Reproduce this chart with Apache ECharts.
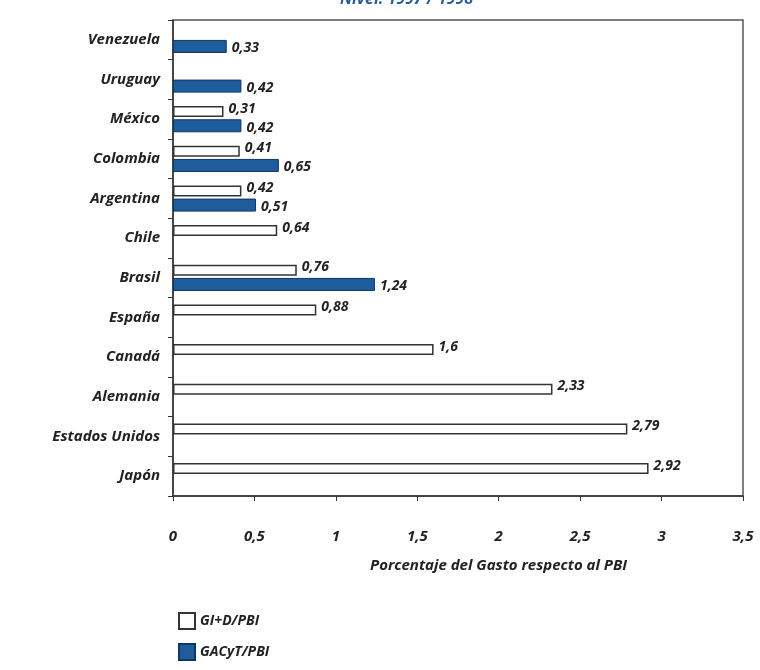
<!DOCTYPE html>
<html>
<head>
<meta charset="utf-8">
<script src="https://cdn.jsdelivr.net/npm/echarts@6/dist/echarts.min.js"></script>
<style>
    html, body { margin: 0; padding: 0; background: #fff; }
    #chart { width: 760px; height: 670px; }
</style>
</head>
<body>
<div id="chart"></div>
<script>
// datos
const paises = ['Venezuela', 'Uruguay', 'México', 'Colombia', 'Argentina', 'Chile', 'Brasil', 'España', 'Canadá', 'Alemania', 'Estados Unidos', 'Japón'];
const gid = [null, null, 0.31, 0.41, 0.42, 0.64, 0.76, 0.88, 1.6, 2.33, 2.79, 2.92];
const gacyt = [0.33, 0.42, 0.42, 0.65, 0.51, null, 1.24, null, null, null, null, null];
const xTicks = [0, 0.5, 1, 1.5, 2, 2.5, 3, 3.5];

const FONT = 'Open Sans';
const coma = function (v) { return String(v).replace('.', ','); };

let chart = echarts.init(document.getElementById('chart'));

let option = {
    animation: false,
    textStyle: { fontFamily: FONT },
    title: {
        text: 'Nivel: 1997 / 1998',
        left: 335,
        top: -14,
        textStyle: { color: '#2a5d9c', fontSize: 16, fontWeight: 'bold', fontStyle: 'italic', fontFamily: FONT }
    },
    grid: {
        left: 173,
        right: 17,
        top: 20,
        bottom: 174,
        show: true,
        borderColor: '#555',
        borderWidth: 1.5
    },
    legend: {
        left: 173,
        top: 607,
        orient: 'vertical',
        icon: 'rect',
        itemWidth: 16,
        itemHeight: 16,
        itemGap: 13,
        textStyle: { fontSize: 14, fontWeight: 'bold', fontStyle: 'italic', color: '#222', fontFamily: FONT },
        data: ['GI+D/PBI', 'GACyT/PBI']
    },
    xAxis: {
        type: 'value',
        min: 0,
        max: 3.5,
        interval: 0.5,
        axisLine: { show: true, lineStyle: { color: '#333', width: 1.5 } },
        axisTick: { show: true, length: 5, lineStyle: { color: '#333' } },
        splitLine: { show: false },
        axisLabel: {
            margin: 33,
            fontSize: 15,
            fontWeight: 'bold',
            fontStyle: 'italic',
            color: '#222',
            formatter: function (v) { return xTicks.indexOf(v) >= 0 ? coma(v) : ''; }
        }
    },
    yAxis: {
        type: 'category',
        inverse: true,
        data: paises,
        axisLine: { show: true, lineStyle: { color: '#333', width: 1.5 } },
        axisTick: { show: true, length: 5, lineStyle: { color: '#333' } },
        axisLabel: { margin: 13, fontSize: 15, fontWeight: 'bold', fontStyle: 'italic', color: '#222' }
    },
    graphic: [{
        type: 'text',
        left: 370,
        top: 558,
        style: {
            text: 'Porcentaje del Gasto respecto al PBI',
            font: 'italic bold 15px "Open Sans"',
            fill: '#222'
        }
    }],
    series: [{
        name: 'GI+D/PBI',
        type: 'bar',
        data: gid,
        barWidth: 11,
        barGap: '20%',
        itemStyle: { color: '#fff', borderColor: '#333', borderWidth: 1.5 },
        label: {
            show: true,
            position: 'right',
            distance: 5,
            offset: [0, -3],
            fontSize: 14,
            fontWeight: 'bold',
            fontStyle: 'italic',
            color: '#222',
            formatter: function (p) { return coma(p.value); }
        }
    }, {
        name: 'GACyT/PBI',
        type: 'bar',
        data: gacyt,
        barWidth: 13,
        itemStyle: { color: '#1f5c9c', borderColor: '#0f3563', borderWidth: 1 },
        label: {
            show: true,
            position: 'right',
            distance: 5,
            offset: [0, 2],
            fontSize: 14,
            fontWeight: 'bold',
            fontStyle: 'italic',
            color: '#222',
            formatter: function (p) { return coma(p.value); }
        }
    }]
};

chart.setOption(option);
</script>
</body>
</html>
